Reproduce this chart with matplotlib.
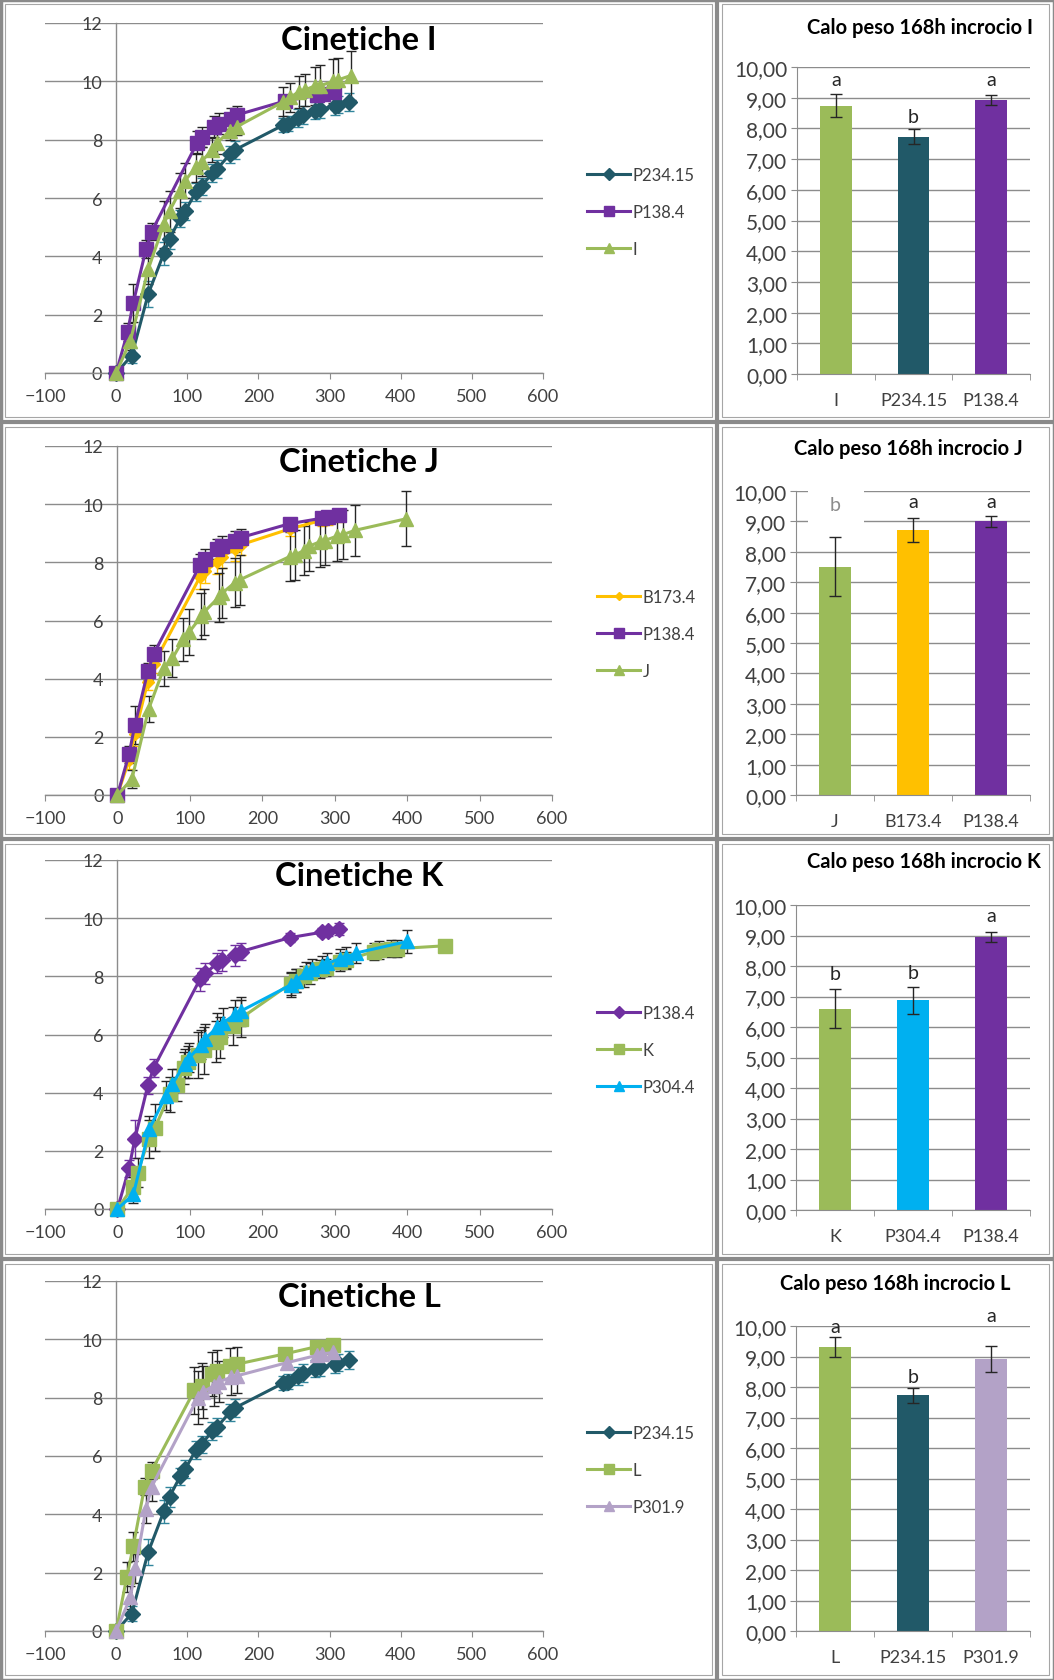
import matplotlib
matplotlib.use('Agg')
import matplotlib.pyplot as plt
from matplotlib.lines import Line2D
from matplotlib.patches import Rectangle
import numpy as np

W, H = 1054, 1681
plt.rcParams['font.family'] = ['Lato', 'DejaVu Sans']

# ---------------- kinetic series (time h, weight loss, error) ----------------
P234_t = [0, 22, 45, 67, 75, 90, 97, 112, 120, 135, 142, 160, 167, 235, 242, 255, 262, 280, 287, 307, 312, 327]
P234_v = [0, 0.6, 2.7, 4.1, 4.6, 5.3, 5.55, 6.2, 6.4, 6.85, 7.0, 7.5, 7.65, 8.5, 8.55, 8.75, 8.85, 9.0, 9.05, 9.15, 9.2, 9.3]
P234_e = [0, 0.25, 0.45, 0.4, 0.35, 0.3, 0.3, 0.3, 0.3, 0.3, 0.3, 0.3, 0.3, 0.25, 0.25, 0.3, 0.3, 0.3, 0.3, 0.3, 0.3, 0.3]

P138_t = [0, 16, 24, 42, 50, 114, 121, 138, 145, 162, 170, 238, 283, 291, 306]
P138_v = [0, 1.4, 2.4, 4.25, 4.85, 7.9, 8.1, 8.45, 8.55, 8.72, 8.85, 9.33, 9.52, 9.55, 9.62]
P138_e = [0, 0.3, 0.65, 0.3, 0.3, 0.4, 0.35, 0.35, 0.35, 0.35, 0.3, 0.15, 0.15, 0.15, 0.2]

I_t = [0, 20, 45, 67, 75, 90, 97, 112, 120, 135, 142, 160, 170, 235, 245, 257, 265, 280, 287, 305, 312, 330]
I_v = [0, 1.1, 3.55, 5.1, 5.55, 6.25, 6.6, 7.05, 7.25, 7.65, 7.9, 8.3, 8.45, 9.3, 9.45, 9.65, 9.7, 9.85, 9.85, 10.0, 10.05, 10.2]
I_e = [0, 0.3, 0.5, 0.8, 0.7, 0.6, 0.6, 0.5, 0.5, 0.4, 0.4, 0.3, 0.3, 0.5, 0.5, 0.55, 0.55, 0.65, 0.7, 0.75, 0.75, 0.85]

B173_t = [0, 16, 24, 42, 50, 114, 121, 138, 145, 162, 170, 238, 283, 291, 306]
B173_v = [0, 1.2, 2.1, 3.9, 4.5, 7.5, 7.7, 8.0, 8.2, 8.45, 8.6, 9.15, 9.45, 9.5, 9.6]
B173_e = [0, 0.3, 0.4, 0.3, 0.3, 0.4, 0.4, 0.4, 0.4, 0.4, 0.35, 0.25, 0.2, 0.2, 0.2]

J_t = [0, 20, 43, 64, 76, 91, 99, 116, 120, 140, 145, 162, 169, 238, 245, 257, 264, 279, 286, 303, 311, 328, 399]
J_v = [0, 0.55, 2.95, 4.35, 4.7, 5.35, 5.6, 6.15, 6.3, 6.8, 6.95, 7.3, 7.4, 8.2, 8.25, 8.4, 8.55, 8.7, 8.75, 8.9, 8.95, 9.1, 9.5]
J_e = [0, 0.3, 0.45, 0.6, 0.65, 0.75, 0.8, 0.8, 0.8, 0.85, 0.85, 0.85, 0.85, 0.85, 0.85, 0.85, 0.85, 0.85, 0.85, 0.85, 0.85, 0.87, 0.95]

K_t = [0, 21, 28, 43, 52, 72, 82, 92, 97, 111, 119, 136, 141, 160, 170, 239, 246, 258, 266, 280, 288, 307, 315, 354, 361, 378, 386, 452]
K_v = [0, 0.75, 1.25, 2.4, 2.8, 3.95, 4.25, 4.85, 5.05, 5.3, 5.45, 5.75, 5.9, 6.3, 6.55, 7.75, 7.85, 8.0, 8.1, 8.25, 8.3, 8.5, 8.55, 8.85, 8.9, 8.95, 8.95, 9.05]
K_e = [0, 0.35, 0.5, 0.65, 0.8, 0.6, 0.55, 0.55, 0.55, 0.8, 0.8, 0.7, 0.7, 0.65, 0.65, 0.4, 0.4, 0.35, 0.35, 0.3, 0.3, 0.3, 0.3, 0.3, 0.3, 0.3, 0.3, 0]

P304_t = [0, 22, 44, 67, 76, 93, 99, 116, 121, 138, 146, 163, 170, 239, 246, 261, 268, 283, 290, 307, 315, 329, 400]
P304_v = [0, 0.5, 2.75, 3.9, 4.3, 5.0, 5.2, 5.65, 5.85, 6.25, 6.4, 6.7, 6.8, 7.7, 7.85, 8.15, 8.25, 8.35, 8.45, 8.6, 8.65, 8.8, 9.2]
P304_e = [0, 0.3, 0.45, 0.5, 0.5, 0.5, 0.5, 0.5, 0.5, 0.5, 0.5, 0.5, 0.5, 0.4, 0.4, 0.35, 0.35, 0.35, 0.35, 0.35, 0.35, 0.35, 0.4]

L_t = [0, 15, 24, 40, 50, 110, 120, 135, 142, 160, 170, 237, 282, 290, 305]
L_v = [0, 1.85, 2.9, 4.95, 5.5, 8.25, 8.4, 8.8, 8.9, 9.1, 9.15, 9.5, 9.75, 9.75, 9.8]
L_e = [0, 0.5, 0.5, 0.3, 0.3, 0.8, 0.8, 0.75, 0.75, 0.6, 0.6, 0.15, 0.15, 0.15, 0.15]

P301_t = [0, 20, 27, 42, 50, 115, 122, 137, 145, 162, 170, 240, 282, 290, 305]
P301_v = [0, 1.15, 2.15, 4.2, 4.95, 8.0, 8.2, 8.4, 8.55, 8.7, 8.75, 9.2, 9.45, 9.5, 9.55]
P301_e = [0, 0.4, 0.5, 0.5, 0.5, 0.9, 0.9, 0.7, 0.7, 0.6, 0.6, 0.2, 0.2, 0.2, 0.2]

# ---------------- bar data (weight loss at 168 h) ----------------
barI_cats = ['I', 'P234.15', 'P138.4']
barI_vals = [8.74, 7.73, 8.93]
barI_errs = [0.37, 0.25, 0.17]
barI_letters = ['a', 'b', 'a']
barI_letter_y = [9.6, 8.4, 9.58]

barJ_cats = ['J', 'B173.4', 'P138.4']
barJ_vals = [7.51, 8.72, 9.0]
barJ_errs = [0.98, 0.4, 0.17]
barJ_letters = ['b', 'a', 'a']
barJ_letter_y = [9.54, 9.64, 9.64]

barK_cats = ['K', 'P304.4', 'P138.4']
barK_vals = [6.6, 6.87, 8.95]
barK_errs = [0.63, 0.43, 0.17]
barK_letters = ['b', 'b', 'a']
barK_letter_y = [7.74, 7.8, 9.64]

barL_cats = ['L', 'P234.15', 'P301.9']
barL_vals = [9.32, 7.73, 8.92]
barL_errs = [0.33, 0.25, 0.44]
barL_letters = ['a', 'b', 'a']
barL_letter_y = [9.97, 8.36, 10.33]

# ---------------- colours ----------------
C_TEAL = '#215968'
C_PURPLE = '#7030A0'
C_GREEN = '#9BBB59'
C_YELLOW = '#FFC000'
C_CYAN = '#00B0F0'
C_LILAC = '#B3A2C7'
C_GRID = '#8c8c8c'
C_AXIS = '#8c8c8c'
C_TXT = '#404040'
C_ERR = '#262626'
C_TEAL_ERR = '#31859C'

fig = plt.figure(figsize=(W / 100, H / 100), dpi=100)
fig.patch.set_facecolor('white')


def px_axes(x0, y0, x1, y1):
    return fig.add_axes([x0 / W, 1 - y1 / H, (x1 - x0) / W, (y1 - y0) / H])


def line_panel(box, title, title_xy, series, legend_xy):
    ax = px_axes(*box)
    ax.set_xlim(-100, 600)
    ax.set_ylim(0, 12)
    for sp in ['top', 'right']:
        ax.spines[sp].set_visible(False)
    ax.spines['left'].set_position(('data', 0))
    for sp in ['left', 'bottom']:
        ax.spines[sp].set_color(C_AXIS)
        ax.spines[sp].set_linewidth(1.0)
    ax.set_xticks(np.arange(-100, 601, 100))
    ax.set_yticks(np.arange(0, 13, 2))
    ax.yaxis.grid(True, color=C_GRID, lw=1.0)
    ax.set_axisbelow(True)
    ax.tick_params(axis='y', length=0, pad=10, labelsize=13, labelcolor=C_TXT)
    ax.tick_params(axis='x', length=4, direction='out', color=C_AXIS, pad=7,
                   labelsize=13, labelcolor=C_TXT)
    handles = []
    for (name, t, v, e, color, marker, ms, ecolor) in series:
        ax.errorbar(t, v, yerr=e, color=color, marker=marker, ms=ms, mec=color, mfc=color,
                    lw=2.2, ecolor=ecolor, elinewidth=1, capsize=3.5, capthick=1,
                    clip_on=False, zorder=3)
        handles.append(Line2D([], [], color=color, marker=marker, ms=ms * 0.75,
                              mec=color, mfc=color, lw=2.2, label=name))
    ax.legend(handles=handles, loc='center left',
              bbox_to_anchor=(legend_xy[0] / W, 1 - legend_xy[1] / H),
              bbox_transform=fig.transFigure, frameon=False, fontsize=12,
              handlelength=2.6, handletextpad=0.15, labelspacing=1.25,
              borderpad=0, borderaxespad=0, labelcolor=C_TXT)
    fig.text(title_xy[0] / W, 1 - title_xy[1] / H, title, ha='center', va='center',
             fontsize=23.5, fontweight='bold', color='black')
    return ax


def bar_panel(box, title, title_xy, cats, vals, errs, colors, letters, letter_y,
              letter_colors, mask=None):
    ax = px_axes(*box)
    x = np.arange(len(cats))
    ax.bar(x, vals, width=0.41, color=colors, yerr=errs, zorder=2,
           error_kw=dict(ecolor=C_ERR, elinewidth=1, capsize=4, capthick=1, zorder=4))
    ax.set_xlim(-0.5, len(cats) - 0.5)
    ax.set_ylim(0, 10)
    yt = np.arange(0, 11, 1)
    ax.set_yticks(yt)
    ax.set_yticklabels([f"{v:.2f}".replace('.', ',') for v in yt])
    ax.yaxis.grid(True, color=C_GRID, lw=1.0)
    ax.set_axisbelow(True)
    for sp in ['top', 'right']:
        ax.spines[sp].set_visible(False)
    for sp in ['left', 'bottom']:
        ax.spines[sp].set_color(C_AXIS)
    ax.set_xticks(x)
    ax.set_xticklabels(cats)
    ax.set_xticks(np.arange(-0.5, len(cats)), minor=True)
    ax.tick_params(axis='x', which='major', length=0, pad=13, labelsize=13, labelcolor=C_TXT)
    ax.tick_params(axis='x', which='minor', length=4, color=C_AXIS)
    ax.tick_params(axis='y', length=4, color=C_AXIS, pad=3, labelsize=15, labelcolor=C_TXT)
    if mask is not None:
        ax.add_patch(Rectangle((mask[0], mask[1]), mask[2], mask[3], facecolor='white',
                               edgecolor='none', zorder=1.5, clip_on=False))
    for xi, lt, ly, lc in zip(x, letters, letter_y, letter_colors):
        ax.text(xi, ly, lt, ha='center', va='center', fontsize=14, color=lc, zorder=5)
    fig.text(title_xy[0] / W, 1 - title_xy[1] / H, title, ha='center', va='center',
             fontsize=14.5, fontweight='bold', color='black')
    return ax


# ---------------- line panels ----------------
line_panel((45, 24, 543, 374), 'Cinetiche I', (359, 41), [
    ('P234.15', P234_t, P234_v, P234_e, C_TEAL, 'D', 8, C_TEAL_ERR),
    ('P138.4', P138_t, P138_v, P138_e, C_PURPLE, 's', 9.5, C_ERR),
    ('I', I_t, I_v, I_e, C_GREEN, '^', 10, C_ERR),
], (587, 213))

line_panel((45, 447, 552, 796), 'Cinetiche J', (359, 462), [
    ('B173.4', B173_t, B173_v, B173_e, C_YELLOW, 'D', 6, C_YELLOW),
    ('P138.4', P138_t, P138_v, P138_e, C_PURPLE, 's', 9.5, C_ERR),
    ('J', J_t, J_v, J_e, C_GREEN, '^', 10, C_ERR),
], (597, 635))

line_panel((45, 861, 552, 1210), 'Cinetiche K', (359, 877), [
    ('P138.4', P138_t, P138_v, P138_e, C_PURPLE, 'D', 8, C_PURPLE),
    ('K', K_t, K_v, K_e, C_GREEN, 's', 9.5, C_ERR),
    ('P304.4', P304_t, P304_v, P304_e, C_CYAN, '^', 10, C_ERR),
], (597, 1051))

line_panel((45, 1282, 543, 1632), 'Cinetiche L', (359, 1298), [
    ('P234.15', P234_t, P234_v, P234_e, C_TEAL, 'D', 8, C_TEAL_ERR),
    ('L', L_t, L_v, L_e, C_GREEN, 's', 9.5, C_ERR),
    ('P301.9', P301_t, P301_v, P301_e, C_LILAC, '^', 10, C_ERR),
], (587, 1471))

# ---------------- bar panels ----------------
bar_panel((797, 68, 1030, 375), 'Calo peso 168h incrocio I', (920, 28),
          barI_cats, barI_vals, barI_errs, [C_GREEN, C_TEAL, C_PURPLE],
          barI_letters, barI_letter_y, ['#262626'] * 3)
bar_panel((796, 492, 1030, 796), 'Calo peso 168h incrocio J', (908, 449),
          barJ_cats, barJ_vals, barJ_errs, [C_GREEN, C_YELLOW, C_PURPLE],
          barJ_letters, barJ_letter_y, ['#8c8c8c', '#262626', '#262626'],
          mask=(-0.35, 8.85, 0.72, 1.2))
bar_panel((796, 906, 1030, 1211), 'Calo peso 168h incrocio K', (924, 862),
          barK_cats, barK_vals, barK_errs, [C_GREEN, C_CYAN, C_PURPLE],
          barK_letters, barK_letter_y, ['#262626'] * 3)
bar_panel((796, 1327, 1030, 1632), 'Calo peso 168h incrocio L', (895, 1284),
          barL_cats, barL_vals, barL_errs, [C_GREEN, C_TEAL, C_LILAC],
          barL_letters, barL_letter_y, ['#262626'] * 3)

# ---------------- frames and dividers ----------------
def fig_line(x0, y0, x1, y1, lw, color):
    fig.add_artist(Line2D([x0 / W, x1 / W], [1 - y0 / H, 1 - y1 / H], lw=lw, color=color,
                          transform=fig.transFigure, solid_capstyle='butt'))


rows = [(0, 423), (423, 840), (840, 1260), (1260, H)]
cols = [(0, 717), (717, W)]
for (ya, yb) in rows:
    for (xa, xb) in cols:
        fig.add_artist(Rectangle(((xa + 5) / W, 1 - (yb - 5) / H), (xb - xa - 10) / W,
                                 (yb - ya - 10) / H, fill=False, edgecolor='#a6a6a6',
                                 lw=0.8, transform=fig.transFigure))
for yv in [423, 840, 1260]:
    fig_line(0, yv, W, yv, 3.0, '#8a8a8a')
fig_line(717, 0, 717, H, 3.0, '#8a8a8a')
fig.add_artist(Rectangle((0.5 / W, 0.5 / H), (W - 1) / W, (H - 1) / H, fill=False,
                         edgecolor='#8a8a8a', lw=2.5, transform=fig.transFigure))

fig.savefig('out.png', dpi=100, facecolor='white')
